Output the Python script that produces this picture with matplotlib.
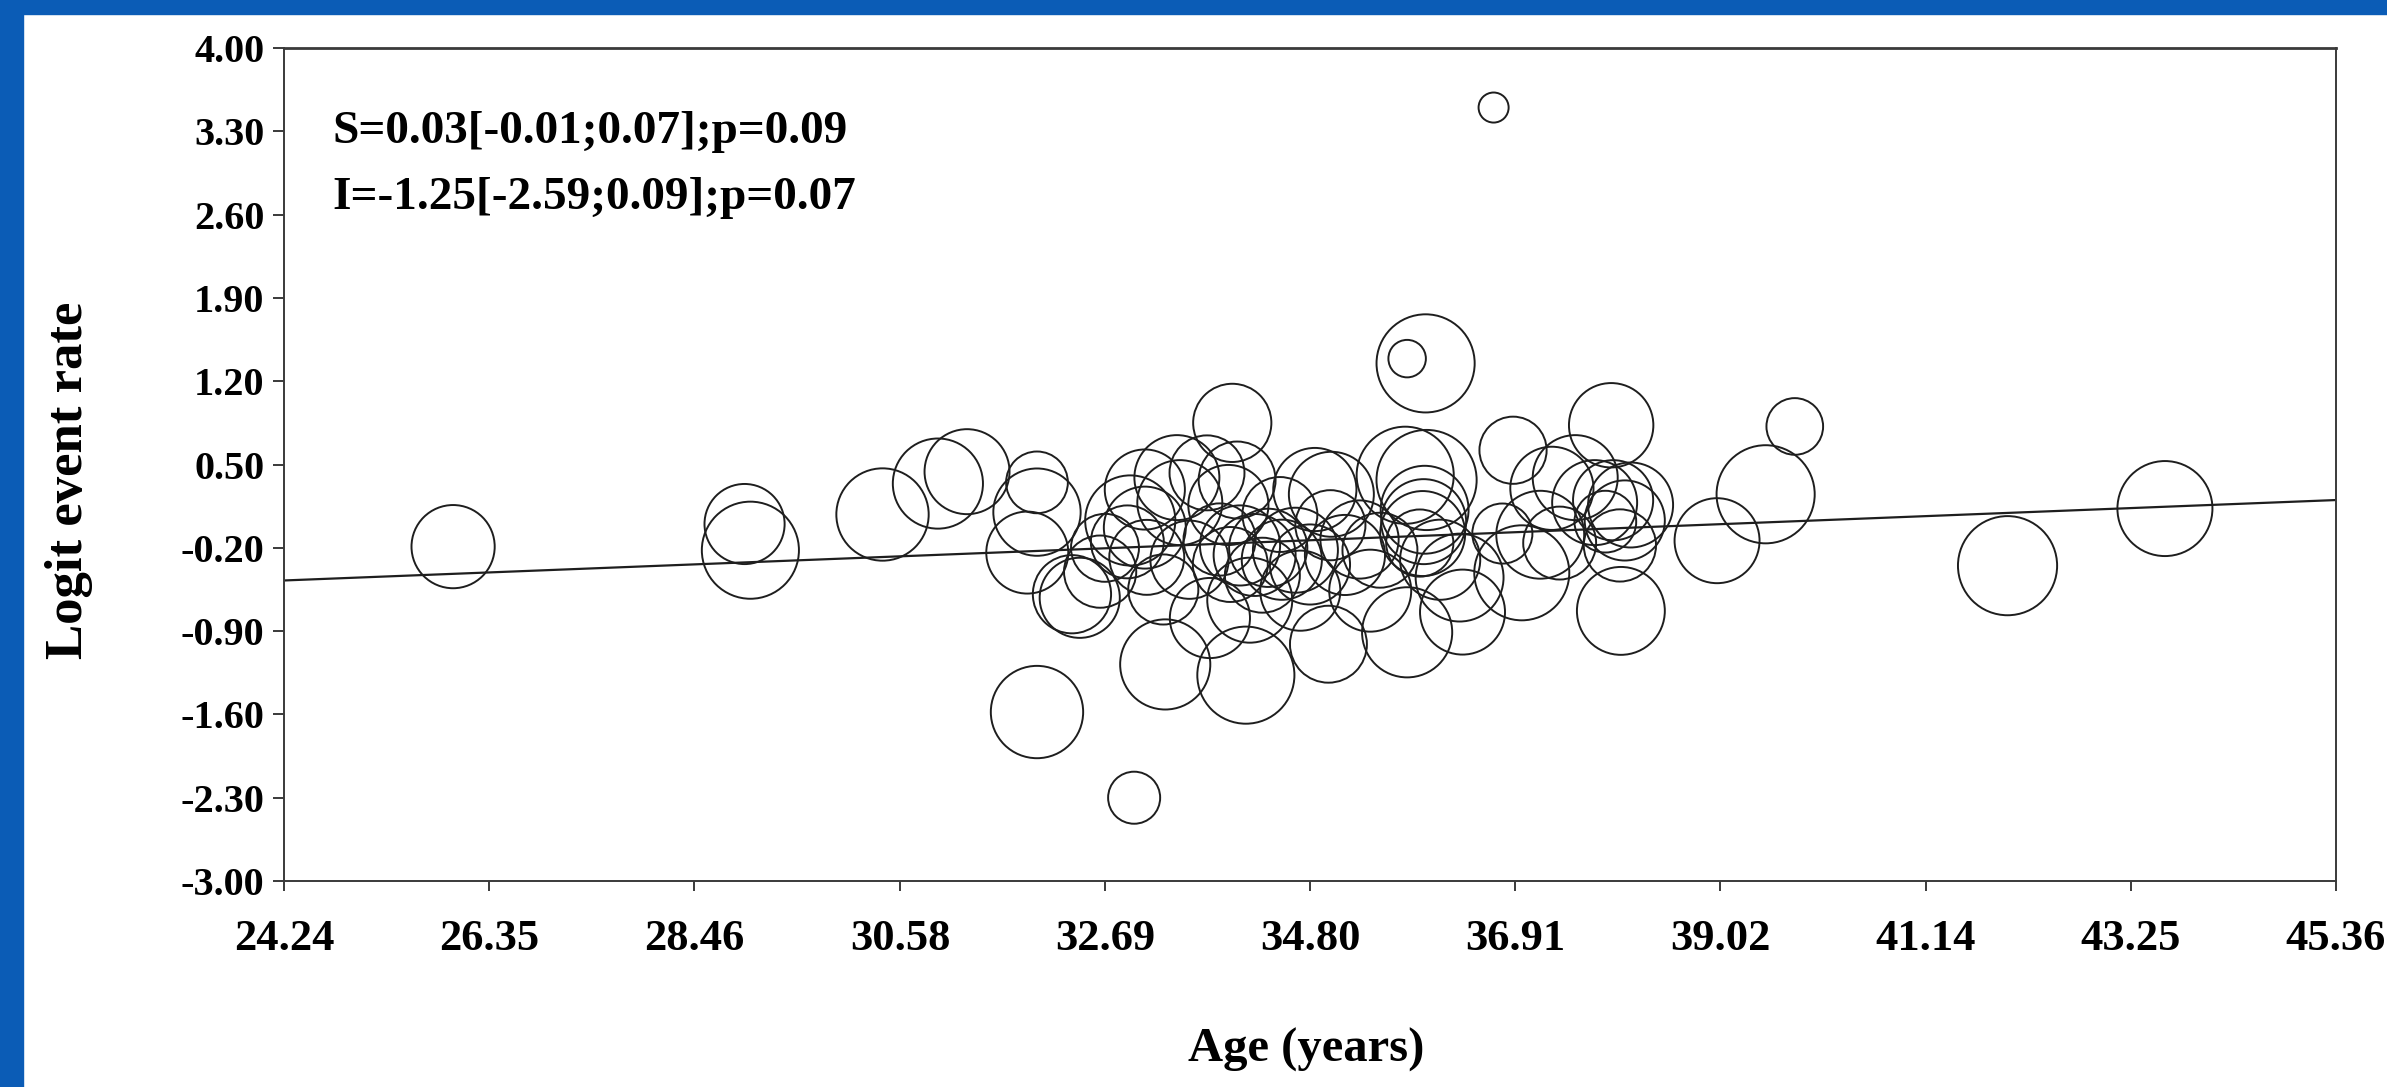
import matplotlib
matplotlib.use("Agg")
import matplotlib.pyplot as plt
from matplotlib.patches import Rectangle
import numpy as np

# Meta-regression: logit event rate against mean age, one bubble per study
age = [25.98, 28.98, 29.04, 30.40, 30.97, 31.27, 31.99, 31.99, 31.89, 32.35,
       32.43, 33.31, 31.99, 32.99, 34.14, 34.00, 35.99, 35.80, 36.69, 36.89,
       37.90, 39.79, 39.49, 38.99, 38.00, 41.98, 43.60, 37.29, 37.53, 37.17,
       37.37, 37.73, 37.92, 37.84, 34.05, 34.85, 35.02, 35.78, 36.00, 35.98,
       35.97, 35.96, 35.93, 36.34, 36.37, 35.80, 34.99, 36.98, 36.78, 33.43,
       32.95, 33.10, 32.92, 33.12, 33.29, 33.77, 33.46, 33.74, 34.08, 34.23,
       34.37, 34.51, 33.98, 34.65, 34.80, 33.87, 34.31, 35.16, 35.31, 35.52,
       34.18, 34.70, 33.56, 35.42, 35.01, 34.49, 32.64, 32.69, 36.14, 38.04,
       37.99, 38.10, 33.10, 33.96]
logit_rate = [-0.19, 0.00, -0.22, 0.08, 0.34, 0.44, 0.35, 0.10, -0.24, -0.59,
              -0.62, -1.18, -1.58, -2.30, -1.27, 0.85, 1.35, 1.39, 3.50, 0.62,
              0.83, 0.82, 0.25, -0.14, -0.73, -0.35, 0.13, 0.30, 0.39, -0.09,
              -0.16, 0.18, 0.20, 0.02, 0.37, 0.29, 0.25, 0.41, 0.37, 0.12,
              0.02, -0.08, -0.16, -0.45, -0.74, -0.91, -1.01, -0.41, -0.08, 0.39,
              0.03, -0.03, -0.15, -0.28, -0.55, -0.79, 0.18, 0.43, -0.18, -0.26,
              -0.20, -0.30, -0.34, -0.22, -0.34, -0.13, -0.43, -0.26, -0.13, -0.22,
              -0.64, -0.56, -0.30, -0.56, -0.01, 0.08, -0.40, -0.20, -0.30, 0.03,
              -0.18, 0.16, 0.29, 0.16]
# relative study weights (bubble area)
weight = [69, 64, 94, 85, 81, 72, 38, 76, 67, 61,
          64, 81, 85, 27, 94, 61, 96, 14, 9, 45,
          71, 32, 96, 72, 77, 98, 90, 69, 72, 77,
          53, 72, 64, 38, 59, 69, 72, 94, 100, 77,
          72, 72, 45, 77, 72, 81, 59, 90, 36, 72,
          81, 67, 53, 56, 49, 64, 72, 56, 64, 67,
          61, 64, 56, 72, 64, 52, 56, 64, 61, 56,
          72, 64, 61, 67, 49, 56, 52, 46, 64, 64,
          52, 72, 64, 64]

slope = 0.032
intercept = -1.25

x_ticks = [24.24, 26.35, 28.46, 30.58, 32.69, 34.80, 36.91, 39.02, 41.14, 43.25, 45.36]
y_ticks = [4.00, 3.30, 2.60, 1.90, 1.20, 0.50, -0.20, -0.90, -1.60, -2.30, -3.00]

plt.rcParams['font.family'] = ['Liberation Serif', 'DejaVu Serif']
plt.rcParams['font.weight'] = 'bold'

fig = plt.figure(figsize=(23.87, 10.87), dpi=100)
fig.patch.set_facecolor('white')
# blue frame strips on the left and top edges
fig.patches.append(Rectangle((0, 0), 23 / 2387, 1, transform=fig.transFigure,
                             color='#0b5cb6', zorder=0))
fig.patches.append(Rectangle((0, 1 - 14 / 1087), 1, 14 / 1087, transform=fig.transFigure,
                             color='#0b5cb6', zorder=0))

ax = fig.add_axes([0.119, 0.1895, 0.8596, 0.7663])

sizes = np.array(weight) * 52
ax.scatter(age, logit_rate, s=sizes, facecolors='none', edgecolors='#1e1e1e',
           linewidths=1.4, zorder=3)

xs = np.array([x_ticks[0], x_ticks[-1]])
ax.plot(xs, intercept + slope * xs, color='#1e1e1e', lw=1.6, zorder=2)

ax.set_xlim(x_ticks[0], x_ticks[-1])
ax.set_ylim(-3.0, 4.0)
ax.set_xticks(x_ticks)
ax.set_xticklabels(['%.2f' % v for v in x_ticks])
ax.set_yticks(y_ticks)
ax.set_yticklabels(['%.2f' % v for v in y_ticks])

for sp in ax.spines.values():
    sp.set_color('#3a3a3a')
    sp.set_linewidth(1.4)
ax.spines['top'].set_linewidth(2.0)

ax.tick_params(axis='both', direction='out', width=1.4, color='#3a3a3a')
ax.tick_params(axis='x', length=7, pad=20, labelsize=32)
ax.tick_params(axis='y', length=8, pad=6, labelsize=29)

ax.set_xlabel('Age (years)', fontsize=35, fontweight='bold', va='center')
ax.xaxis.set_label_coords(0.498, -0.203)
ax.set_ylabel('Logit event rate', fontsize=38, fontweight='bold', va='center')
ax.yaxis.set_label_coords(-0.105, 0.481)

ax.text(0.0234, 0.899, 'S=0.03[-0.01;0.07];p=0.09', transform=ax.transAxes,
        fontsize=34, fontweight='bold', va='center', ha='left')
ax.text(0.0234, 0.820, 'I=-1.25[-2.59;0.09];p=0.07', transform=ax.transAxes,
        fontsize=34, fontweight='bold', va='center', ha='left')

fig.savefig('out.png', dpi=100, facecolor='white')
